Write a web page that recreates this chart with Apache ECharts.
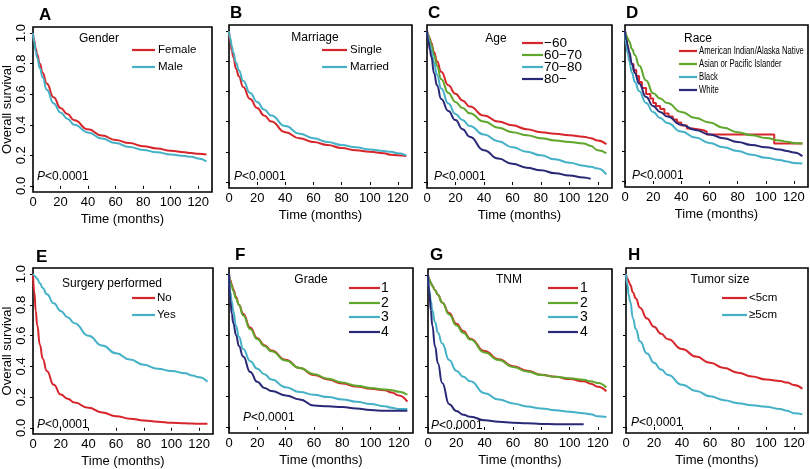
<!DOCTYPE html>
<html>
<head>
<meta charset="utf-8">
<script src="https://cdn.jsdelivr.net/npm/echarts@6/dist/echarts.min.js"></script>
<style>
html,body{margin:0;padding:0;background:#fff}
#main{width:810px;height:469px}
</style>
</head>
<body>
<div id="main"></div>
<script>
var months = [0,1,2,3,5,7,10,15,20,25,30,40,50,60,70,80,90,100,110,115,120,126];
var xTicks = [0,20,40,60,80,100,120];
var yTicks = [0,0.2,0.4,0.6,0.8,1.0];

// A gender
var genderFemale = [1.00,0.95,0.90,0.86,0.80,0.74,0.67,0.58,0.51,0.47,0.43,0.37,0.33,0.30,0.28,0.26,0.245,0.23,0.22,0.215,0.21,0.205];
var genderMale   = [1.00,0.94,0.88,0.84,0.77,0.71,0.63,0.54,0.48,0.44,0.40,0.35,0.31,0.28,0.255,0.235,0.22,0.205,0.195,0.19,0.18,0.16];
// B marriage
var marriageSingle  = [1.00,0.93,0.87,0.83,0.75,0.70,0.63,0.55,0.49,0.44,0.40,0.33,0.29,0.265,0.245,0.225,0.21,0.20,0.19,0.18,0.177,0.172];
var marriageMarried = [1.00,0.95,0.90,0.86,0.79,0.74,0.67,0.59,0.53,0.48,0.44,0.37,0.32,0.29,0.265,0.245,0.23,0.215,0.205,0.20,0.19,0.175];
// C age
var ageU60  = [1.00,0.97,0.95,0.92,0.86,0.80,0.73,0.64,0.585,0.54,0.50,0.44,0.40,0.375,0.35,0.33,0.32,0.31,0.30,0.29,0.275,0.25];
var age6070 = [1.00,0.97,0.94,0.91,0.84,0.77,0.68,0.59,0.53,0.49,0.455,0.40,0.36,0.33,0.31,0.29,0.275,0.265,0.255,0.24,0.21,0.19];
var age7080 = [1.00,0.95,0.91,0.87,0.79,0.71,0.62,0.52,0.45,0.41,0.37,0.315,0.27,0.23,0.20,0.177,0.15,0.128,0.108,0.10,0.09,0.05];
var age80   = [1.00,0.93,0.88,0.83,0.72,0.64,0.55,0.47,0.41,0.35,0.30,0.21,0.155,0.12,0.095,0.077,0.058,0.042,0.03,0.02,null,null];
// D race
var aianMonths = [0,1,2,3,4,6,8,10,12,15,18,20,22,25,28,31,34,37,40,44,48,55,58,106,126];
var raceAIAN   = [1.00,0.95,0.88,0.82,0.78,0.74,0.70,0.66,0.62,0.58,0.55,0.52,0.50,0.48,0.45,0.43,0.41,0.39,0.37,0.35,0.34,0.33,0.31,0.25,0.25];
var raceAsian = [1.00,0.97,0.95,0.93,0.88,0.84,0.77,0.67,0.585,0.55,0.52,0.46,0.42,0.39,0.355,0.325,0.305,0.287,0.27,0.262,0.254,0.25];
var raceBlack = [1.00,0.90,0.85,0.80,0.72,0.66,0.60,0.52,0.46,0.42,0.386,0.33,0.29,0.254,0.225,0.20,0.175,0.155,0.14,0.13,0.12,0.117];
var raceWhite = [1.00,0.94,0.90,0.86,0.78,0.72,0.65,0.56,0.50,0.46,0.43,0.375,0.34,0.31,0.285,0.26,0.24,0.225,0.21,0.20,0.19,0.165];
// E surgery
var surgeryNo  = [1.00,0.88,0.76,0.67,0.54,0.45,0.37,0.28,0.217,0.19,0.165,0.13,0.10,0.076,0.06,0.048,0.04,0.033,0.03,0.028,0.026,0.026];
var surgeryYes = [1.00,0.99,0.98,0.97,0.94,0.91,0.87,0.81,0.76,0.72,0.68,0.60,0.535,0.485,0.445,0.41,0.385,0.37,0.355,0.34,0.33,0.30];
// F grade
var grade1 = [1.00,0.96,0.93,0.90,0.85,0.80,0.74,0.65,0.58,0.535,0.50,0.44,0.385,0.34,0.31,0.284,0.265,0.25,0.24,0.225,0.205,0.165];
var grade2 = [1.00,0.95,0.92,0.89,0.84,0.80,0.73,0.64,0.575,0.53,0.495,0.435,0.385,0.345,0.315,0.29,0.27,0.255,0.245,0.24,0.23,0.21];
var grade3 = [1.00,0.88,0.82,0.76,0.66,0.59,0.51,0.43,0.38,0.345,0.31,0.26,0.228,0.21,0.195,0.18,0.165,0.15,0.135,0.125,0.117,0.117];
var grade4 = [1.00,0.82,0.74,0.68,0.60,0.53,0.46,0.36,0.295,0.255,0.235,0.206,0.18,0.14,0.135,0.13,0.12,0.11,0.106,0.106,0.106,0.106];
// G TNM
var tnm1 = [1.00,0.97,0.95,0.93,0.90,0.87,0.82,0.75,0.68,0.63,0.58,0.50,0.445,0.40,0.37,0.344,0.33,0.315,0.30,0.285,0.265,0.235];
var tnm2 = [1.00,0.97,0.95,0.93,0.90,0.87,0.82,0.74,0.67,0.62,0.575,0.49,0.44,0.395,0.365,0.342,0.33,0.32,0.31,0.30,0.29,0.26];
var tnm3 = [1.00,0.90,0.83,0.77,0.69,0.62,0.55,0.44,0.37,0.33,0.30,0.222,0.18,0.155,0.135,0.122,0.11,0.10,0.09,0.083,0.07,0.065];
var tnm4 = [1.00,0.88,0.77,0.67,0.53,0.42,0.29,0.15,0.105,0.08,0.067,0.044,0.034,0.028,0.024,0.02,0.018,0.018,0.018,null,null,null];
// H tumor size
var sizeSmall = [1.00,0.97,0.95,0.93,0.88,0.84,0.78,0.71,0.655,0.61,0.574,0.51,0.46,0.42,0.385,0.355,0.33,0.31,0.30,0.29,0.275,0.25];
var sizeLarge = [1.00,0.93,0.86,0.82,0.71,0.64,0.56,0.48,0.42,0.375,0.34,0.276,0.235,0.20,0.175,0.155,0.142,0.132,0.117,0.105,0.09,0.082];

var RED = '#d7262b', TEAL = '#45b1c7', GREEN = '#5ea72c', NAVY = '#2a2977';
var FONT = '"Liberation Sans", Arial, Helvetica, sans-serif';

function pairs(t, s){
    var out = [];
    for (var i = 0; i < t.length; i++) {
        if (s[i] != null) out.push([t[i], s[i]]);
    }
    return out;
}

// box = [left, top, width, height] in px
var panels = [
    {tag:'A', tagPos:[39,15], box:[32,27,180,165], yLabels:true, p:[37,177],
     legend:{title:'Gender', tx:99, ty:39, x0:132, x1:155, lx:158, rows:[50,67], size:11.5},
     curves:[['Female', genderFemale, RED], ['Male', genderMale, TEAL]]},
    {tag:'B', tagPos:[230,13], box:[229,25,183,163], p:[234,177],
     legend:{title:'Marriage', tx:315, ty:38, x0:322, x1:347, lx:350, rows:[50,67], size:11.5},
     curves:[['Single', marriageSingle, RED], ['Married', marriageMarried, TEAL]]},
    {tag:'C', tagPos:[428,13], box:[427,25,185,163], p:[434,177],
     legend:{title:'Age', tx:496, ty:39, x0:522, x1:543, lx:544, rows:[43,55,67,79], size:13.5},
     curves:[['\u221260', ageU60, RED], ['60\u221270', age6070, GREEN], ['70\u221280', age7080, TEAL], ['80\u2212', age80, NAVY]]},
    {tag:'D', tagPos:[626,13], box:[625,25,183,162], p:[632,176],
     legend:{title:'Race', tx:698, ty:39, x0:679, x1:697, lx:699, rows:[51,64,77,90], size:10, narrow:0.77},
     curves:[['American Indian/Alaska Native', raceAIAN, RED, aianMonths], ['Asian or Pacific Islander', raceAsian, GREEN],
             ['Black', raceBlack, TEAL], ['White', raceWhite, NAVY]]},
    {tag:'E', tagPos:[36,257], box:[32,268,181,167], yLabels:true, p:[37,425],
     legend:{title:'Surgery performed', tx:112, ty:284, x0:132, x1:155, lx:157, rows:[298,315], size:11.5},
     curves:[['No', surgeryNo, RED], ['Yes', surgeryYes, TEAL]]},
    {tag:'F', tagPos:[235,255], box:[229,268,184,165], p:[243,418],
     legend:{title:'Grade', tx:311, ty:280, x0:349, x1:380, lx:381, rows:[288,303,317,332], size:14},
     curves:[['1', grade1, RED], ['2', grade2, GREEN], ['3', grade3, TEAL], ['4', grade4, NAVY]]},
    {tag:'G', tagPos:[430,255], box:[428,269,184,164], p:[431,426],
     legend:{title:'TNM', tx:509, ty:280, x0:548, x1:578, lx:580, rows:[288,303,317,332], size:14},
     curves:[['1', tnm1, RED], ['2', tnm2, GREEN], ['3', tnm3, TEAL], ['4', tnm4, NAVY]]},
    {tag:'H', tagPos:[628,255], box:[626,268,182,165], p:[631,423],
     legend:{title:'Tumor size', tx:720, ty:280, x0:722, x1:747, lx:749, rows:[298,315], size:11.5},
     curves:[['<5cm', sizeSmall, RED], ['\u22655cm', sizeLarge, TEAL]]}
];

var grid = [], xAxis = [], yAxis = [], series = [], graphic = [];

panels.forEach(function(pn, i){
    grid.push({left:pn.box[0], top:pn.box[1], width:pn.box[2], height:pn.box[3],
        show:true, borderColor:'#000', borderWidth:1.6, backgroundColor:'transparent'});
    xAxis.push({
        type:'value', gridIndex:i, min:0, max:130,
        axisLine:{show:false},
        axisTick:{show:true, length:3, customValues:xTicks, lineStyle:{color:'#000'}},
        axisLabel:{customValues:xTicks, color:'#000', fontSize:13, margin:4, fontFamily:FONT},
        splitLine:{show:false},
        name:'Time (months)', nameLocation:'middle', nameGap:21,
        nameTextStyle:{color:'#000', fontSize:13, fontFamily:FONT}
    });
    yAxis.push({
        type:'value', gridIndex:i, min:-0.04, max:1.04,
        axisLine:{show:false},
        axisTick:{show:true, length:3, customValues:yTicks, lineStyle:{color:'#000'}},
        axisLabel:{show:!!pn.yLabels, customValues:yTicks, rotate:90, color:'#000', fontSize:13, margin:5,
            fontFamily:FONT, formatter:function(v){ return v.toFixed(1); }},
        splitLine:{show:false},
        name:pn.yLabels ? 'Overall survival' : '', nameLocation:'middle', nameRotate:90, nameGap:19,
        nameTextStyle:{color:'#000', fontSize:13, fontFamily:FONT}
    });
    pn.curves.forEach(function(c){
        series.push({
            type:'line', name:c[0], xAxisIndex:i, yAxisIndex:i,
            data:pairs(c[3] || months, c[1]),
            showSymbol:false, step:c[3] ? 'end' : false,
            smooth:c[3] ? false : 0.5, smoothMonotone:'x',
            lineStyle:{color:c[2], width:2}, itemStyle:{color:c[2]},
            z:2
        });
    });

    // panel letter
    graphic.push({type:'text', x:pn.tagPos[0], y:pn.tagPos[1],
        style:{text:pn.tag, font:'bold 17px ' + FONT, fill:'#000', verticalAlign:'middle'}});
    // p value
    graphic.push({type:'text', x:pn.p[0], y:pn.p[1],
        style:{text:'{i|P}<0.0001', font:'12px ' + FONT, fill:'#000', verticalAlign:'middle',
            rich:{i:{fontStyle:'italic', fontSize:12, fontFamily:FONT}}}});
    // legend
    var lg = pn.legend;
    graphic.push({type:'text', x:lg.tx, y:lg.ty,
        style:{text:lg.title, font:'12px ' + FONT, fill:'#000', align:'center', verticalAlign:'middle'}});
    pn.curves.forEach(function(c, k){
        var yy = lg.rows[k];
        graphic.push({type:'line', shape:{x1:lg.x0, y1:yy, x2:lg.x1, y2:yy},
            style:{stroke:c[2], lineWidth:2.2}});
        graphic.push({type:'text', x:lg.lx, y:yy, scaleX:lg.narrow || 1,
            style:{text:c[0], font:lg.size + 'px ' + FONT, fill:'#000', verticalAlign:'middle'}});
    });
});

var chart = echarts.init(document.getElementById('main'), null, {renderer:'canvas'});
chart.setOption({
    animation:false,
    backgroundColor:'#fff',
    grid:grid, xAxis:xAxis, yAxis:yAxis, series:series, graphic:graphic
});
</script>
</body>
</html>
